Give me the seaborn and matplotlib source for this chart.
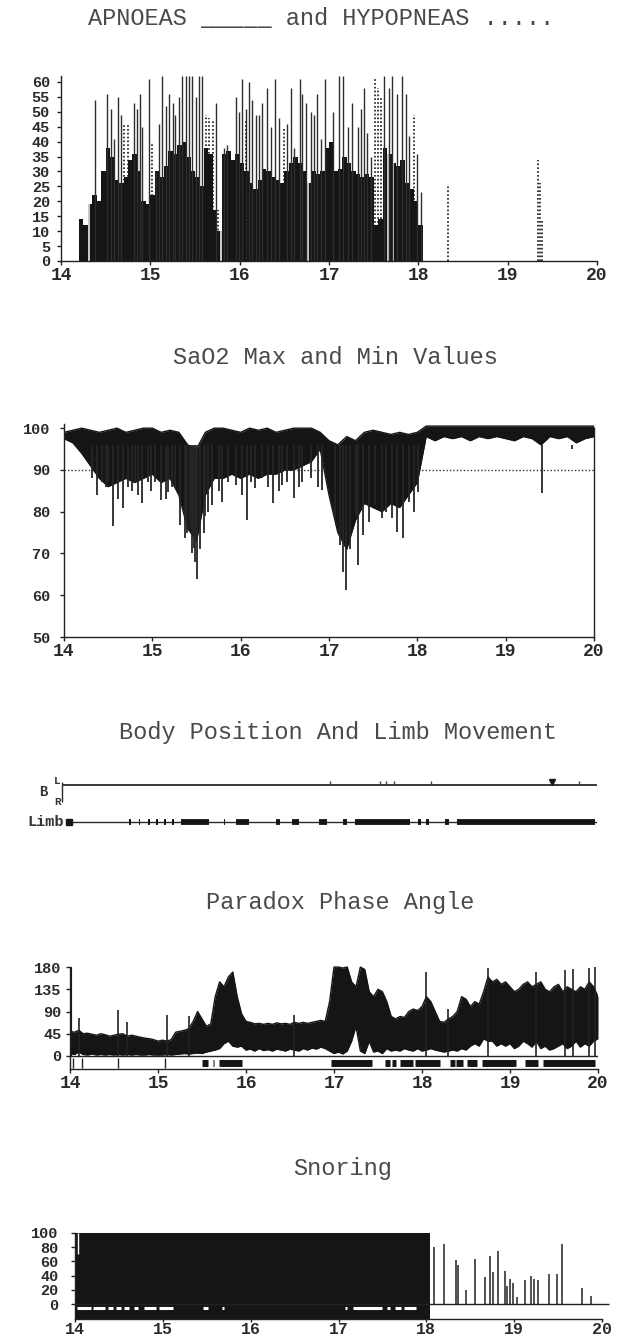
import numpy as np
import pandas as pd
import matplotlib
matplotlib.use('Agg')
import matplotlib.pyplot as plt
import seaborn as sns

# ---------------- data (time in clock hours) ----------------
# apnoeas: dense solid part, one value per 0.05 h bin starting 14.20 (duration s)
apn_base_t0 = 14.20
apn_base = [14, 12, 19, 22, 20, 30, 38, 35, 27, 26, 28, 34, 36, 30, 20, 19,
            22, 30, 28, 32, 37, 36, 39, 40, 35, 30, 28, 25, 38, 36, 17, 10,
            36, 37, 34, 36, 33, 30, 26, 24, 27, 31, 30, 28, 27, 26, 30, 33,
            35, 33, 30, 26, 30, 29, 30, 38, 40, 30, 31, 35, 33, 30, 29, 28,
            29, 28, 12, 14, 38, 36, 33, 32, 34, 26, 24, 20, 12]
# long apnoeas
apn_peak_t = [14.38, 14.52, 14.56, 14.59, 14.64, 14.67, 14.82, 14.85, 14.88, 14.91,
              14.98, 15.06, 15.10, 15.13, 15.17, 15.21, 15.25, 15.28, 15.32, 15.36,
              15.40, 15.43, 15.47, 15.51, 15.55, 15.58, 15.73, 15.82, 15.86, 15.96,
              15.99, 16.03, 16.07, 16.10, 16.14, 16.18, 16.22, 16.25, 16.31, 16.35,
              16.40, 16.44, 16.53, 16.57, 16.61, 16.67, 16.70, 16.74, 16.80, 16.83,
              16.87, 16.91, 16.96, 17.04, 17.11, 17.16, 17.21, 17.26, 17.32, 17.36,
              17.39, 17.43, 17.47, 17.62, 17.67, 17.71, 17.76, 17.82, 17.86, 17.90,
              17.99, 18.03]
apn_peak = [54, 56, 51, 41, 55, 49, 53, 51, 56, 45,
            61, 30, 46, 62, 52, 56, 53, 49, 55, 62,
            62, 62, 62, 55, 62, 62, 53, 38, 39, 55,
            50, 61, 51, 60, 54, 49, 49, 53, 58, 45,
            61, 48, 46, 58, 38, 61, 56, 53, 50, 49,
            56, 41, 61, 50, 62, 62, 45, 53, 45, 51,
            58, 43, 35, 62, 58, 62, 56, 62, 56, 42,
            36, 23]
apn_gap_t = [14.31, 15.79, 16.77, 17.66, 17.72]
# hypopneas
hyp_t = [14.71, 14.75, 15.02, 15.62, 15.66, 15.70, 15.76, 16.07, 16.50,
         17.52, 17.55, 17.58, 17.95, 18.33, 19.34, 19.36, 19.38]
hyp = [46, 46, 40, 49, 48, 47, 17, 47, 45, 61, 58, 55, 49, 25, 34, 26, 14]

# SaO2 max / min envelope every 0.1 h from 14.0 to 20.0
sao_t0 = 14.0
sao2_hi = [99, 99.5, 100, 99.5, 99, 99.5, 100, 99, 99.5, 100,
           100, 99, 99.5, 99, 96, 95, 99, 100, 100, 99.5,
           99, 100, 99.5, 100, 99, 99.5, 100, 100, 100, 99,
           97, 96, 98, 97, 99, 99.5, 99, 98.5, 99, 98.5,
           99, 100.5, 100.5, 100.5, 100.5, 100.5, 100.5, 100.5, 100.5, 100.5,
           100.5, 100.5, 100.5, 100.5, 100.5, 100.5, 100.5, 100.5, 100.5, 100.5, 100.5]
sao2_lo = [97.5, 96.5, 94, 91, 88, 86, 87, 88, 87, 88,
           89, 87, 88, 84, 76, 73, 84, 88, 88, 89,
           88, 89, 88, 89, 89, 90, 90, 91, 92, 95,
           84, 75, 71, 78, 82, 81, 80, 82, 81, 84,
           87, 98, 97, 98, 97.5, 98, 97, 98, 97.5, 98,
           97.5, 97, 98, 97.5, 96, 98, 97.5, 98, 96.5, 97.5, 98]
# desaturation spikes (minimum value)
sao2_spk_t = [14.32, 14.37, 14.43, 14.47, 14.50, 14.56, 14.61, 14.67, 14.73, 14.77,
              14.80, 14.84, 14.88, 14.95, 14.99, 15.03, 15.10, 15.15, 15.18, 15.22,
              15.26, 15.31, 15.37, 15.39, 15.43, 15.45, 15.47, 15.48, 15.50, 15.54,
              15.58, 15.60, 15.63, 15.67, 15.75, 15.79, 15.86, 15.95, 16.01, 16.07,
              16.12, 16.16, 16.24, 16.31, 16.37, 16.43, 16.47, 16.52, 16.60, 16.66,
              16.69, 16.80, 16.88, 16.92, 17.07, 17.13, 17.16, 17.19, 17.24, 17.30,
              17.33, 17.39, 17.45, 17.52, 17.60, 17.65, 17.71, 17.77, 17.84, 17.90,
              17.96, 18.01, 18.20, 18.60, 19.41, 19.75]
sao2_spk = [88, 84, 87, 86, 87, 76.6, 83, 80.8, 86, 85,
            87, 84, 82, 87, 85, 87, 82.8, 83, 84.8, 86,
            85.6, 76.8, 73.6, 75, 76, 70, 71.2, 68, 64, 71,
            75, 79, 80, 81.6, 85, 82.4, 87, 86.4, 84, 78,
            87, 85.6, 88, 86, 82, 85, 86.4, 87, 83.2, 86,
            87, 88, 86, 85.2, 79, 72, 65.6, 61.2, 71, 79,
            67.2, 74.4, 77.6, 81.6, 78.4, 80, 78.4, 75.2, 73.6, 82.4,
            80, 84.8, 96, 96, 84.4, 95]

# body position / limb movement
body_evt_t = [16.99, 17.55, 17.62, 17.71, 18.13, 19.80]
body_blob_t = [19.49]
limb_start = [14.72, 14.83, 14.94, 15.03, 15.12, 15.21, 15.31, 15.79, 15.93,
              16.38, 16.56, 16.87, 17.13, 17.27, 17.98, 18.07, 18.29, 18.42]
limb_end = [14.74, 14.85, 14.96, 15.05, 15.14, 15.23, 15.62, 15.81, 16.07,
            16.42, 16.64, 16.96, 17.18, 17.89, 18.02, 18.11, 18.33, 19.98]

# paradox phase angle (deg), band every 0.05 h from 14.00 to 20.00
par_t0 = 14.0
par_hi = [50, 48, 52, 45, 46, 44, 42, 45, 43, 40,
          42, 44, 45, 40, 42, 40, 38, 36, 35, 33,
          30, 32, 30, 33, 48, 50, 52, 55, 70, 90,
          75, 60, 65, 120, 150, 140, 160, 170, 120, 85,
          70, 68, 65, 66, 64, 66, 64, 67, 65, 66,
          64, 68, 66, 68, 66, 68, 70, 72, 70, 110,
          180, 180, 178, 180, 150, 140, 180, 175, 130, 120,
          135, 130, 110, 80, 75, 80, 78, 90, 95, 92,
          100, 120, 110, 90, 70, 68, 75, 80, 90, 120,
          115, 100, 110, 105, 130, 160, 150, 155, 145, 150,
          140, 130, 135, 145, 150, 140, 145, 150, 135, 130,
          140, 145, 130, 140, 135, 130, 140, 135, 150, 140,
          120]
par_lo = [5, 3, 8, 3, 2, 4, 2, 3, 2, 3,
          2, 3, 2, 3, 2, 3, 2, 2, 3, 2,
          2, 2, 3, 2, 3, 4, 5, 4, 5, 6,
          5, 8, 10, 12, 15, 25, 30, 20, 18, 20,
          12, 14, 10, 15, 11, 13, 10, 14, 12, 10,
          14, 12, 10, 15, 12, 16, 14, 18, 15, 10,
          5, 8, 4, 10, 30, 60, 10, 5, 30, 8,
          10, 5, 15, 10, 12, 10, 15, 12, 10, 15,
          10, 12, 15, 12, 10, 8, 10, 12, 10, 15,
          12, 20, 25, 20, 35, 30, 30, 20, 25, 20,
          25, 15, 20, 30, 25, 18, 30, 15, 20, 12,
          15, 20, 25, 15, 20, 30, 18, 25, 20, 30,
          35]
par_spk_t = [14.00, 14.10, 14.55, 14.65, 15.10, 15.35, 16.55, 18.05,
             18.30, 18.75, 19.30, 19.62, 19.72, 19.90, 19.97]
par_spk = [180, 76, 93, 69, 83, 80, 83, 170, 96, 178, 170, 175, 177, 178, 180]
par_seg_start = [15.50, 15.62, 15.69, 16.97, 17.58, 17.66, 17.75, 17.92,
                 18.32, 18.39, 18.51, 18.68, 19.17, 19.38]
par_seg_end = [15.57, 15.64, 15.96, 17.43, 17.64, 17.70, 17.90, 18.20,
               18.37, 18.47, 18.62, 19.07, 19.32, 19.97]
par_mark_t = [14.03, 14.14, 14.55, 15.08]

# snoring (%)
snore_cont_t = [14.00, 18.04]
snore_cont_level = 100
snore_spk_t = [18.09, 18.20, 18.34, 18.36, 18.45, 18.55, 18.67, 18.73, 18.76, 18.82,
               18.89, 18.92, 18.95, 18.99, 19.03, 19.12, 19.19, 19.23, 19.27, 19.40,
               19.49, 19.54, 19.77, 19.87]
snore_spk = [80, 85, 62, 55, 20, 63, 38, 68, 45, 74,
             46, 25, 35, 30, 10, 34, 40, 35, 34, 42,
             42, 85, 22, 12]
snore_gap_start = [14.02, 14.20, 14.38, 14.47, 14.56, 14.67, 14.78, 14.96,
                   15.46, 15.67, 17.07, 17.17, 17.55, 17.64, 17.75]
snore_gap_end = [14.18, 14.34, 14.43, 14.52, 14.61, 14.72, 14.92, 15.12,
                 15.51, 15.70, 17.10, 17.50, 17.59, 17.71, 17.88]

hours = list(range(14, 21))

# ---------------- style ----------------
sns.set_theme(style='white')
plt.rcParams['font.family'] = ['Liberation Mono', 'DejaVu Sans Mono']
plt.rcParams['axes.linewidth'] = 1.0
plt.rcParams['axes.edgecolor'] = '#222222'
INK = '#151515'
TXT = '#4a4a4a'

W, H = 618, 1340
fig = plt.figure(figsize=(W / 100, H / 100), dpi=100)
fig.patch.set_facecolor('white')


def box(x0, x1, y_top, y_bot):
    return [x0 / W, 1 - y_bot / H, (x1 - x0) / W, (y_bot - y_top) / H]


def title(txt, xc, yc):
    fig.text(xc / W, 1 - yc / H, txt, ha='center', va='center',
             fontsize=17, color=TXT)


def ticks(ax, ypad, xsize=13, xpad=1, xlen=3):
    ax.set_xticks(hours)
    ax.tick_params(axis='both', direction='out', length=3, width=1,
                   color='#222222', labelcolor='#2a2a2a', left=True, bottom=True)
    ax.tick_params(axis='x', labelsize=xsize, pad=xpad, length=xlen)
    ax.tick_params(axis='y', labelsize=11, pad=ypad)
    for lab in ax.get_xticklabels() + ax.get_yticklabels():
        lab.set_fontweight('bold')
    ax.set_xlabel('')
    ax.set_ylabel('')
    ax.set_facecolor('none')


def level(y, n):
    return np.full(len(n), y, dtype=float)


# ---------------- 1: apnoeas / hypopneas ----------------
title('APNOEAS _____ and HYPOPNEAS .....', 321, 19)
ax1 = fig.add_axes(box(61, 597, 76, 261))
base_t = apn_base_t0 + 0.05 * np.arange(len(apn_base))
ax1.bar(base_t, apn_base, width=0.05, align='edge', color=INK, linewidth=0)
ax1.vlines(apn_gap_t, 0, 62, color='white', lw=1.1)
ax1.vlines(apn_peak_t, 0, apn_peak, color='#2e2e2e', lw=1.0)
ax1.vlines(hyp_t, 0, hyp, color=INK, lw=1.2, linestyles=[(0, (1, 1.3))])
ax1.set_xlim(14, 20)
ax1.set_ylim(0, 62)
ax1.set_yticks(range(0, 61, 5))
for s in ['top', 'right']:
    ax1.spines[s].set_visible(False)
ticks(ax1, 5)

# ---------------- 2: SaO2 ----------------
title('SaO2 Max and Min Values', 335, 358)
ax2 = fig.add_axes(box(64, 594, 424, 637))
sao_t = sao_t0 + 0.1 * np.arange(len(sao2_hi))
sao = pd.DataFrame({'t': sao_t, 'hi': sao2_hi, 'lo': sao2_lo})
ax2.fill_between(sao['t'], sao['lo'], sao['hi'], color=INK, lw=0)
sns.lineplot(data=sao, x='t', y='hi', ax=ax2, color=INK, lw=1.0)
sns.lineplot(data=sao, x='t', y='lo', ax=ax2, color=INK, lw=1.0)
ax2.vlines(sao2_spk_t, sao2_spk, 96, color='#262626', lw=1.3)
ax2.axhline(90, color='#333333', lw=1.0, ls=(0, (1, 1.5)), zorder=0)
ax2.set_xlim(14, 20)
ax2.set_ylim(50, 101)
ax2.set_yticks(range(50, 101, 10))
ax2.spines['top'].set_visible(False)
ax2.spines['right'].set_bounds(50, 100)
ticks(ax2, 7)

# ---------------- 3: body position and limb movement ----------------
title('Body Position And Limb Movement', 338, 732)
ax3 = fig.add_axes(box(65, 597, 770, 832))
ax3.set_xlim(14, 20)
ax3.set_ylim(-0.27, 1.405)
ax3.axis('off')
ax3.hlines(1.0, 13.97, 20, color='#2a2a2a', lw=1.3, clip_on=False)
ax3.vlines(13.97, 0.55, 1.08, color='#2a2a2a', lw=1.0, clip_on=False)
ax3.vlines(body_evt_t, 1.0, 1.12, color='#444444', lw=1.0)
ax3.plot(body_blob_t, [1.07], marker='v', ms=4, color=INK, ls='none')
ax3.hlines(0.0, 14.05, 20, color='#2a2a2a', lw=1.0)
ax3.hlines(level(0.0, limb_start), limb_start, limb_end, color=INK, lw=4.2)
ax3.plot([14.05], [0.0], marker='s', ms=4.5, color=INK, clip_on=False)
fig.text(43 / W, 1 - 792 / H, 'B', ha='center', va='center', fontsize=10,
         fontweight='bold', color='#333333')
fig.text(57 / W, 1 - 781 / H, 'L', ha='center', va='center', fontsize=8,
         fontweight='bold', color='#333333')
fig.text(58 / W, 1 - 802 / H, 'R', ha='center', va='center', fontsize=8,
         fontweight='bold', color='#333333')
fig.text(64 / W, 1 - 822 / H, 'Limb', ha='right', va='center', fontsize=11,
         fontweight='bold', color='#333333')

# ---------------- 4: paradox phase angle ----------------
title('Paradox Phase Angle', 340, 902)
ax4 = fig.add_axes(box(70, 598, 964.6, 1069.3))
par_t = par_t0 + 0.05 * np.arange(len(par_hi))
par = pd.DataFrame({'t': par_t, 'hi': par_hi, 'lo': par_lo})
ax4.fill_between(par['t'], par['lo'], par['hi'], color=INK, lw=0)
sns.lineplot(data=par, x='t', y='hi', ax=ax4, color=INK, lw=1.0)
sns.lineplot(data=par, x='t', y='lo', ax=ax4, color=INK, lw=1.0)
ax4.vlines(par_spk_t, 0, par_spk, color='#222222', lw=1.2)
ax4.vlines(par_spk_t[0], 0, par_spk[0], color=INK, lw=3.0)
ax4.axhline(0, color='#222222', lw=1.0)
ax4.hlines(level(-14, par_seg_start), par_seg_start, par_seg_end, color=INK, lw=5.0)
ax4.vlines(par_mark_t, -24, -4, color='#222222', lw=1.0)
ax4.set_xlim(14, 20)
ax4.set_ylim(-27, 185)
ax4.set_yticks([0, 45, 90, 135, 180])
for s in ['top', 'right']:
    ax4.spines[s].set_visible(False)
ax4.spines['left'].set_bounds(-27, 180)
ticks(ax4, 3)

# ---------------- 5: snoring ----------------
title('Snoring', 343, 1169)
ax5 = fig.add_axes(box(75, 602, 1231.5, 1319))
ax5.fill_between(snore_cont_t, -21, snore_cont_level, color=INK, lw=0)
ax5.vlines([14.035], 70, snore_cont_level, color='white', lw=1.0)
ax5.hlines(level(-6, snore_gap_start), snore_gap_start, snore_gap_end,
           color='white', lw=2.2)
ax5.vlines(snore_spk_t, 0, snore_spk, color='#222222', lw=1.1)
ax5.hlines(0, 14, 20.08, color='#222222', lw=1.0, clip_on=False)
ax5.set_xlim(14, 20)
ax5.set_ylim(-21, 102)
ax5.set_yticks(range(0, 101, 20))
for s in ['top', 'right']:
    ax5.spines[s].set_visible(False)
ax5.spines['left'].set_bounds(-21, 100)
ticks(ax5, 9, xsize=12, xpad=0, xlen=2)

fig.savefig('out.png', dpi=100, facecolor='white')
